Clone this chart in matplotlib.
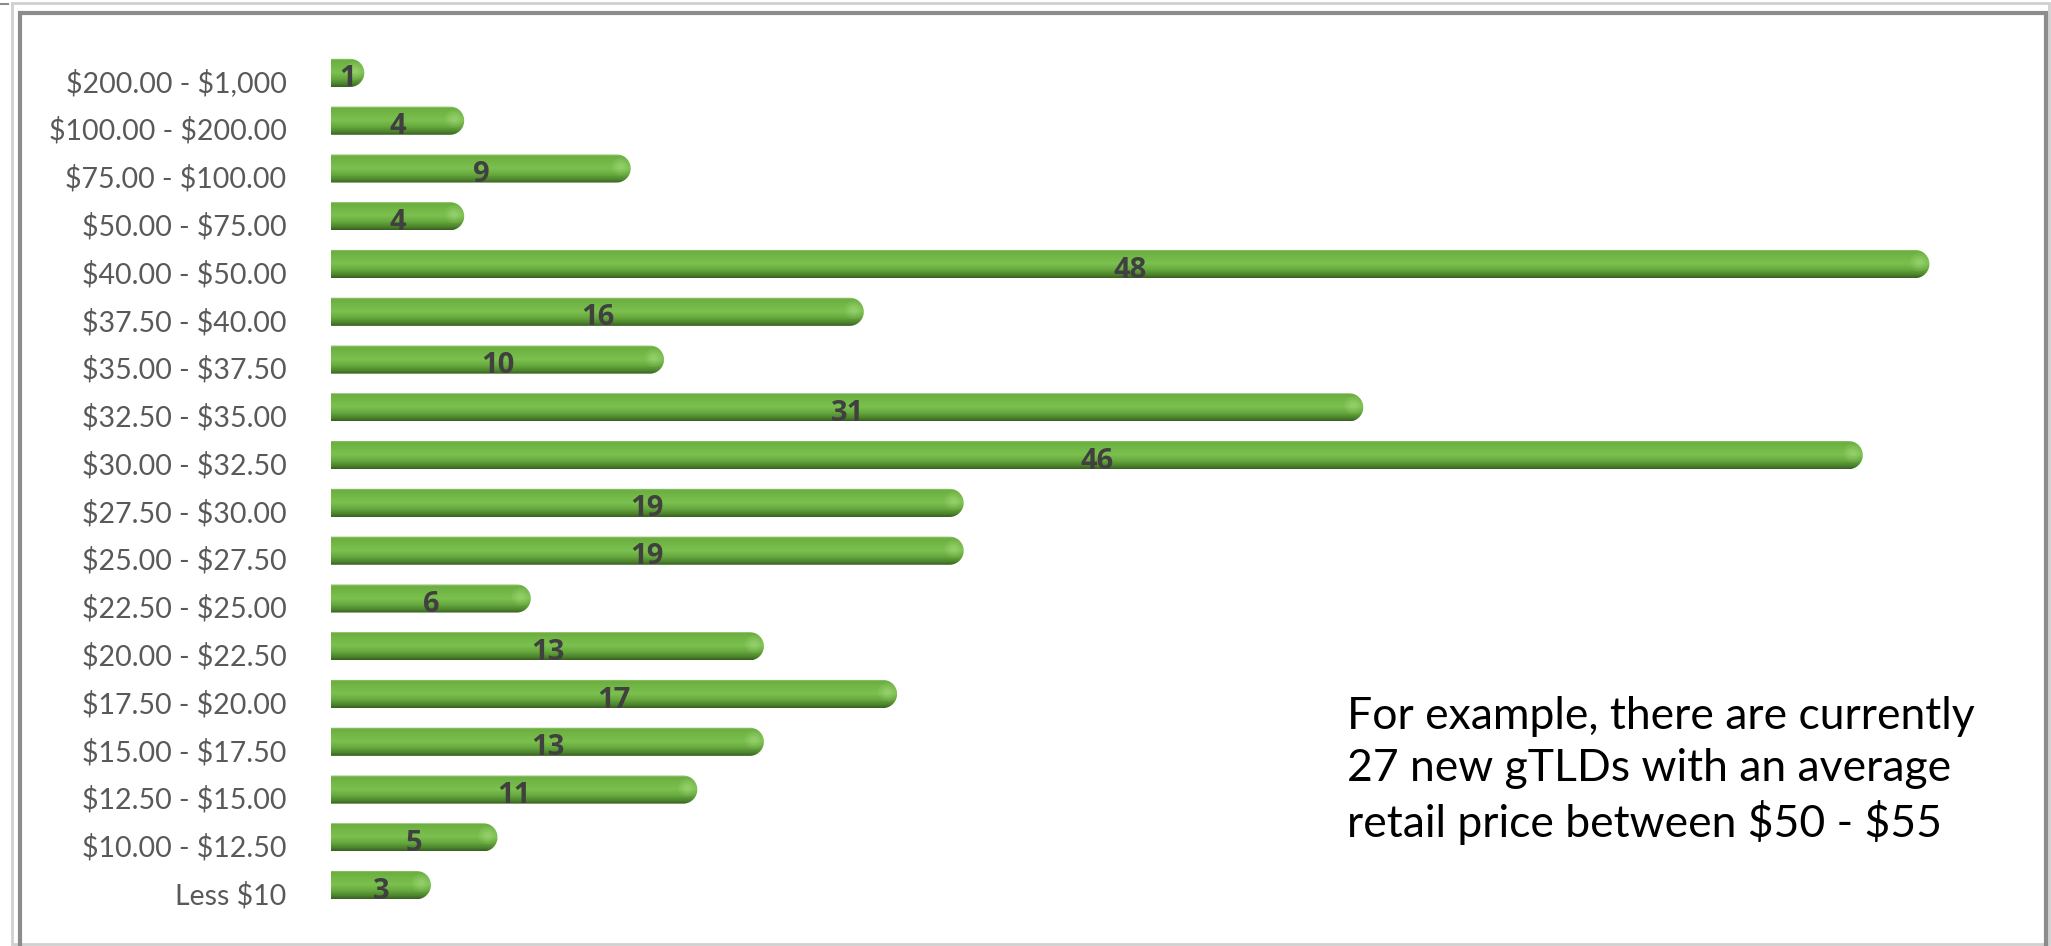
import numpy as np
import matplotlib
matplotlib.use("Agg")
import matplotlib.pyplot as plt
from matplotlib.path import Path
from matplotlib.patches import PathPatch, Rectangle, Ellipse
from matplotlib.colors import LinearSegmentedColormap
from matplotlib.transforms import ScaledTranslation

# data, bottom row first
categories = ["Less $10", "$10.00 - $12.50", "$12.50 - $15.00", "$15.00 - $17.50",
              "$17.50 - $20.00", "$20.00 - $22.50", "$22.50 - $25.00", "$25.00 - $27.50",
              "$27.50 - $30.00", "$30.00 - $32.50", "$32.50 - $35.00", "$35.00 - $37.50",
              "$37.50 - $40.00", "$40.00 - $50.00", "$50.00 - $75.00", "$75.00 - $100.00",
              "$100.00 - $200.00", "$200.00 - $1,000"]
counts = [3, 5, 11, 13, 17, 13, 6, 19, 19, 46, 31, 10, 16, 48, 4, 9, 4, 1]

note = "For example, there are currently\n27 new gTLDs with an average\nretail price between $50 - $55"

W, H, DPI = 2051, 946, 100
plt.rcParams['font.family'] = ['Lato', 'DejaVu Sans']
plt.rcParams['text.parse_math'] = False

fig = plt.figure(figsize=(W / DPI, H / DPI), dpi=DPI)
fig.patch.set_facecolor('white')

# axes in pixel terms
ax_left, ax_right = 331, 1996
ax_top, ax_bot = 49, 909
ax = fig.add_axes([ax_left / W, 1 - ax_bot / H, (ax_right - ax_left) / W, (ax_bot - ax_top) / H])
ax.set_xlim(0, 50)
ax.set_ylim(-0.5, len(categories) - 0.5)
for s in ax.spines.values():
    s.set_visible(False)
ax.set_xticks([])

bar_h = 0.59
bars = ax.barh(range(len(categories)), counts, height=bar_h, alpha=0)

ppx = (ax_right - ax_left) / 50.0
ppy = (ax_bot - ax_top) / len(categories)
ry = bar_h / 2
rx = ry * ppy / ppx

cmap = LinearSegmentedColormap.from_list('cyl', [
    (0.0, '#a9d58c'), (0.07, '#6cae40'), (0.3, '#74b948'), (0.5, '#7cc050'),
    (0.72, '#66a83d'), (0.9, '#4b822c'), (1.0, '#385f21')])
grad = np.linspace(0, 1, 64).reshape(-1, 1)

theta = np.linspace(-np.pi / 2, np.pi / 2, 40)
for b in bars:
    x0 = b.get_x()
    x1 = x0 + b.get_width()
    yb = b.get_y()
    yt = yb + b.get_height()
    yc = (yb + yt) / 2
    cx = x1 - rx
    pts = [(x0, yb), (cx, yb)]
    pts += list(zip(cx + rx * np.cos(theta), yc + ry * np.sin(theta)))
    pts += [(x0, yt), (x0, yb)]
    path = Path(pts, closed=True)
    patch = PathPatch(path, facecolor='none', edgecolor='none', transform=ax.transData)
    ax.add_patch(patch)
    im = ax.imshow(grad, cmap=cmap, aspect='auto', origin='upper',
                   extent=[x0, x1, yb, yt], interpolation='bilinear', zorder=2)
    im.set_clip_path(patch)
    for k, a in [(1.3, 0.10), (0.9, 0.12), (0.5, 0.15)]:
        hl = Ellipse((cx + rx * 0.3, yc + ry * 0.15), rx * k, ry * k,
                     facecolor='#c6f0a0', edgecolor='none', alpha=a, zorder=3)
        ax.add_patch(hl)
        hl.set_clip_path(patch)
    ax.text((x0 + x1) / 2, yc, str(int(b.get_width())), ha='center', va='center',
            fontsize=21, fontweight='bold', color='#404040', zorder=4,
            family=['Open Sans', 'DejaVu Sans'],
            transform=ax.transData + ScaledTranslation(0, -0.06, fig.dpi_scale_trans))

ax.set_xlim(0, 50)
ax.set_ylim(-0.5, len(categories) - 0.5)

ax.set_yticks(range(len(categories)))
ax.set_yticklabels(categories, fontsize=20.5, color='#595959')
ax.tick_params(axis='y', length=0, pad=32)
for lab in ax.get_yticklabels():
    lab.set_transform(lab.get_transform() + ScaledTranslation(0, -0.08, fig.dpi_scale_trans))

fig.text(1347 / W, 1 - 696 / H, note, ha='left', va='top', fontsize=32,
         color='black', linespacing=1.32)

# frame lines (Excel chart border)
def frect(x0, y0, x1, y1, color, lw):
    fig.patches.append(Rectangle((x0 / W, 1 - y1 / H), (x1 - x0) / W, (y1 - y0) / H,
                                 transform=fig.transFigure, fill=False,
                                 edgecolor=color, linewidth=lw))

frect(12, 3, 2049, 944, '#d0d0d0', 2.0)
frect(20, 13, 2046, 960, '#8c8c8c', 3.0)
fig.lines.append(plt.Line2D([0, 8 / W], [1 - 4 / H, 1 - 4 / H], transform=fig.transFigure,
                            color='#8c8c8c', linewidth=1.5))

fig.savefig('out.png', dpi=DPI, facecolor='white')
